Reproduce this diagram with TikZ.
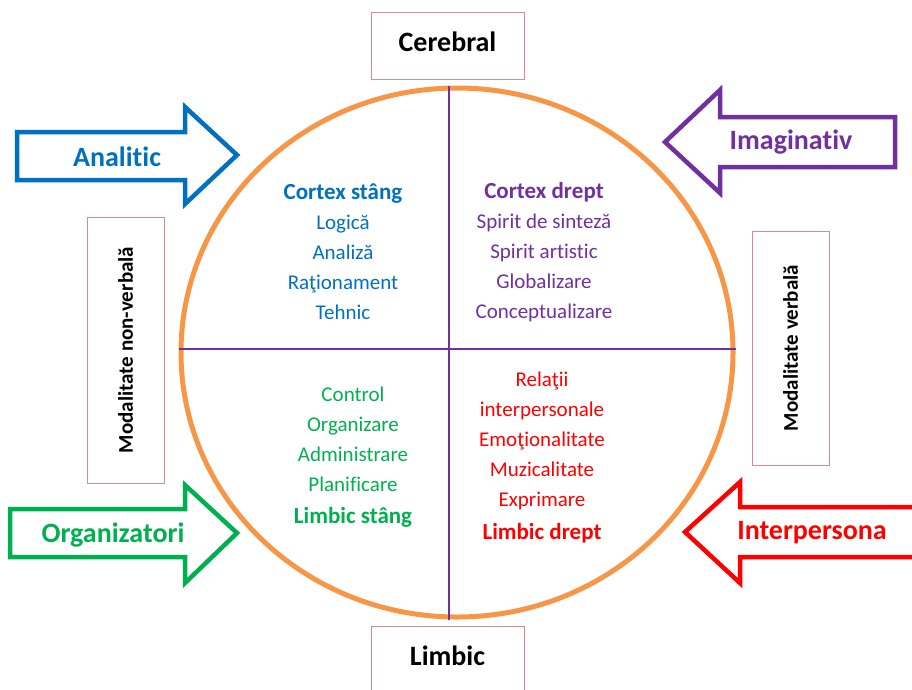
\documentclass[tikz,border=0pt]{standalone}
\usepackage{fontspec}
\setmainfont{Carlito}[Ligatures=NoCommon]
\usetikzlibrary{shapes.geometric,positioning}
\definecolor{lobeorange}{HTML}{F79646}
\definecolor{lobeblue}{HTML}{0070C0}
\definecolor{lobepurple}{HTML}{7030A0}
\definecolor{lobegreen}{HTML}{00B050}
\definecolor{lobered}{HTML}{FF0000}
\definecolor{boxrose}{RGB}{217,140,140}

\begin{document}
\begin{tikzpicture}[x=1pt, y=-1pt,
brain/.style = {draw=lobeorange, line width=5pt, ellipse, minimum width=552pt,
                minimum height=529pt, inner sep=0pt},
divider/.style = {draw=lobepurple, line width=1.5pt},
label/.style = {draw=boxrose, line width=1pt, minimum width=153pt, minimum height=67pt,
                text depth=8pt, font=\fontsize{28}{32}\selectfont\bfseries},
side/.style = {draw=boxrose, line width=1pt, rotate=90, minimum height=77pt,
               font=\fontsize{21}{25}\selectfont\bfseries},
lobe/.style = {align=center, font=\fontsize{21}{30}\selectfont},
hollow/.style = {line width=4.5pt, miter limit=20, fill=white},
tag/.style = {font=\fontsize{28}{32}\selectfont\bfseries}]

\useasboundingbox (0,0) rectangle (912,689);
\clip (0,0) rectangle (912,689);

% circle and quadrants
\node [brain] (brain) at (457,352.5) {};
\path [divider] ([xshift=-8pt]brain.north) -- ([xshift=-8pt]brain.south);
\path [divider] ([yshift=3.5pt]brain.west) -- ([yshift=3.5pt]brain.east);

\node [lobe, text=lobeblue] (cortexL) at (343,252)
  {{\fontsize{23}{30}\selectfont\bfseries Cortex stâng}\\Logică\\Analiză\\Raţionament\\Tehnic};
\node [lobe, text=lobepurple] (cortexR) at (544,252)
  {{\fontsize{23}{30}\selectfont\bfseries Cortex drept}\\Spirit de sinteză\\Spirit artistic\\Globalizare\\Conceptualizare};
\node [lobe, text=lobegreen] (limbicL) at (353,457)
  {Control\\Organizare\\Administrare\\Planificare\\[2pt]{\fontsize{23}{30}\selectfont\bfseries Limbic stâng}};
\node [lobe, text=lobered] (limbicR) at (542,458)
  {Relaţii\\interpersonale\\Emoţionalitate\\Muzicalitate\\Exprimare\\[3pt]{\fontsize{23}{30}\selectfont\bfseries Limbic drept}};

% labels round the circle
\node [label] (cerebral) at (447.5,45.5) {Cerebral};
\node [label] (limbic) at (447.5,659.5) {Limbic};
\node [side, minimum width=266pt] (nonverbal) at (125.5,350) {Modalitate non-verbală};
\node [side, minimum width=234pt] (verbal) at (790.5,348) {Modalitate verbală};

% hollow arrows
\draw [hollow, draw=lobeblue] (17,132) -- (185,132) -- (185,107) -- (237,155)
  -- (185,204) -- (185,180) -- (17,180) -- cycle;
\node [tag, text=lobeblue] (analitic) at (117,157) {Analitic};

\draw [hollow, draw=lobepurple] (895,117) -- (720,117) -- (720,90) -- (665,142)
  -- (720,193) -- (720,167) -- (895,167) -- cycle;
\node [tag, text=lobepurple] (imaginativ) at (791,142) {Imaginativ};

\draw [hollow, draw=lobegreen] (10,509) -- (185,509) -- (185,485) -- (237,533)
  -- (185,583) -- (185,557) -- (10,557) -- cycle;
\node [tag, text=lobegreen] (organizatori) at (113,535) {Organizatori};

\draw [hollow, draw=lobered] (930,507) -- (740,507) -- (740,482) -- (685,532)
  -- (740,583) -- (740,557) -- (930,557) -- cycle;
\node [tag, text=lobered] (interpersona) at (812,533) {Interpersona};
\end{tikzpicture}
\end{document}
